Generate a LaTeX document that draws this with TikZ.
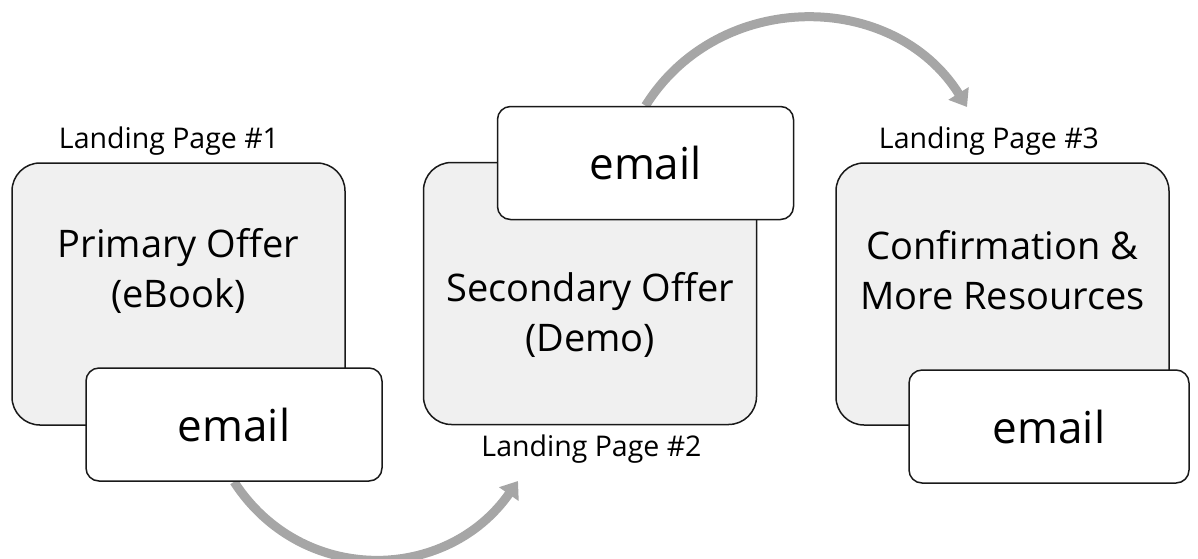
\documentclass[tikz,border=0pt]{standalone}
\usepackage{fontspec}
\setmainfont{Open Sans}
\usepackage{tikz}
\usetikzlibrary{arrows.meta,backgrounds,positioning}

\begin{document}
\begin{tikzpicture}[
  x=1pt, y=1pt,
  offer/.style={draw=black!90, line width=1.5pt, rounded corners=28pt, fill=gray!12, minimum width=333pt, minimum height=262pt},
  mail/.style={draw=black!90, line width=1.5pt, rounded corners=13pt, fill=white, minimum width=296pt, minimum height=113pt, font=\fontsize{44}{52}\selectfont},
  offertext/.style={align=center, font=\fontsize{38}{50}\selectfont},
  pagelabel/.style={anchor=base, font=\fontsize{28.5}{34}\selectfont},
  flow/.style={draw=gray!70, line width=9pt, -{Triangle[width=23pt,length=16pt]}}
]
\useasboundingbox (0,0) rectangle (1198,-558);

% landing pages
\node[offer] (b1) at (178.5,-294) {};
\node[mail] (e1) at (234,-424.5) {email};
\node[offer] (b2) at (590,-293.5) {};
\node[mail] (e2) at (645.5,-163) {email};
\node[offer] (b3) at (1002.5,-294) {};
\node[mail, minimum width=280pt] (e3) at (1049,-426.5) {email};

\node[offertext] (t1) at ([yshift=23pt]b1.center) {Primary Offer\\(eBook)};
\node[offertext] (t2) at ([yshift=-21pt]b2.center) {Secondary Offer\\(Demo)};
\node[offertext] (t3) at ([yshift=24pt]b3.center) {Confirmation \&\\More Resources};

\node[pagelabel] (lp1) at (169,-148) {Landing Page \#1};
\node[pagelabel] (lp2) at (591.5,-456) {Landing Page \#2};
\node[pagelabel] (lp3) at (989,-148) {Landing Page \#3};

% arrows behind the boxes
\coordinate (tip1) at (518,-481);
\coordinate (tip2) at (967,-107);
\begin{scope}[on background layer]
  \draw[flow] (e1.south) to[out=-57, in=-125, looseness=1.12] (tip1);
  \draw[flow] (e2.north) to[out=58, in=122, looseness=1.1] (tip2);
\end{scope}
\end{tikzpicture}
\end{document}
